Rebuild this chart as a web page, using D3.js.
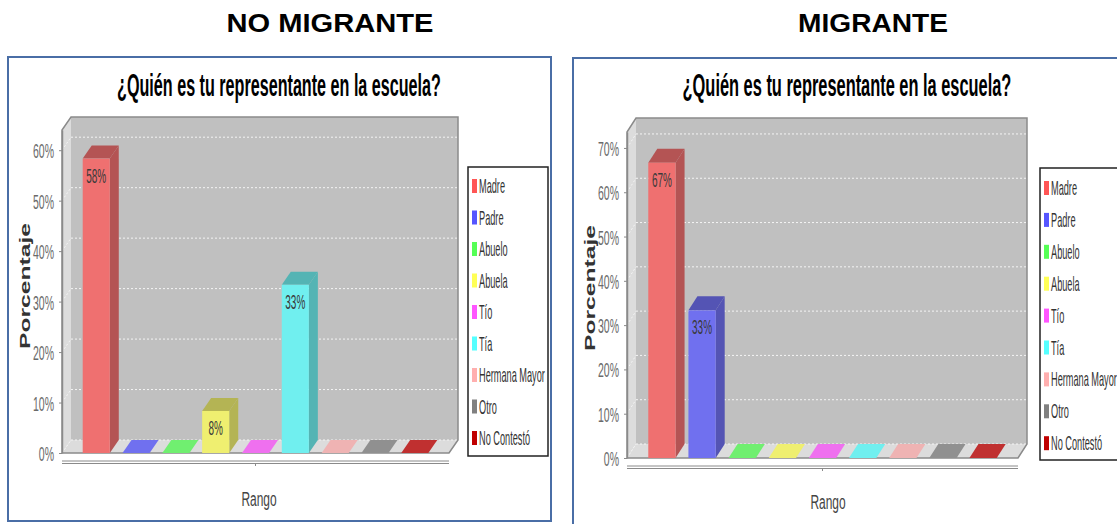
<!DOCTYPE html>
<html>
<head>
<meta charset="utf-8">
<script src="https://cdn.jsdelivr.net/npm/d3@7"></script>
<style>
  html, body { margin: 0; padding: 0; background: #fff; }
  svg { display: block; }
</style>
</head>
<body>
<script>
// data
const categories = ['Madre', 'Padre', 'Abuelo', 'Abuela', 'Tío', 'Tía', 'Hermana Mayor', 'Otro', 'No Contestó'];
const seriesColors = ['#ff5555', '#5555ff', '#55ff55', '#ffff55', '#ff55ff', '#55ffff', '#ffafaf', '#808080', '#c00000'];
const noMigranteValues = [58.33, 0, 0, 8.33, 0, 33.33, 0, 0, 0];
const migranteValues = [66.67, 33.33, 0, 0, 0, 0, 0, 0, 0];
const noMigranteTicks = [0, 10, 20, 30, 40, 50, 60];
const migranteTicks = [0, 10, 20, 30, 40, 50, 60, 70];
const chartTitle = '¿Quién es tu representante en la escuela?';
const panelHeaders = ['NO MIGRANTE', 'MIGRANTE'];

const W = 1117, H = 524;
const FONT = '"Liberation Sans", Arial, sans-serif';

const svg = d3.select('body').append('svg')
  .attr('width', W)
  .attr('height', H)
  .style('font-family', FONT);

svg.append('rect').attr('width', W).attr('height', H).attr('fill', '#fff');

// text squeezed horizontally (the source picture is stretched vertically)
function squeezed(parent, x, y, txt, size, sx, anchor, fill, weight) {
  return parent.append('text')
    .attr('transform', `translate(${x},${y}) scale(${sx},1)`)
    .attr('text-anchor', anchor || 'start')
    .attr('font-size', size)
    .attr('font-weight', weight || 'normal')
    .attr('fill', fill || '#333')
    .text(txt);
}

// centred text scaled so its width matches a target width
function fitted(parent, cx, y, txt, size, width, weight) {
  const t = parent.append('text')
    .attr('text-anchor', 'middle')
    .attr('font-size', size)
    .attr('font-weight', weight)
    .attr('fill', '#000')
    .text(txt);
  const natural = t.node().getComputedTextLength();
  t.attr('transform', `translate(${cx},${y}) scale(${width / natural},1)`);
  return t;
}

function front(c) {
  // bar colour seen through 75% alpha over the grey wall
  const a = d3.color(c), b = d3.color('#c0c0c0');
  return d3.rgb(a.r * 0.75 + b.r * 0.25, a.g * 0.75 + b.g * 0.25, a.b * 0.75 + b.b * 0.25);
}

function drawPanel(cfg) {
  const g = svg.append('g');

  // panel frame
  g.append('rect')
    .attr('x', cfg.frame[0]).attr('y', cfg.frame[1])
    .attr('width', cfg.frame[2]).attr('height', cfg.frame[3])
    .attr('fill', '#fff').attr('stroke', '#4a6ea6').attr('stroke-width', 2);

  // header above the panel, and chart title
  fitted(g, cfg.header[0], cfg.header[1], cfg.headerText, 26, cfg.header[2], 'bold');
  fitted(g, cfg.title[0], cfg.title[1], chartTitle, 31, cfg.title[2], 'bold');

  const ax = cfg.ax, w = cfg.w, base = cfg.base, dx = cfg.dx, dy = cfg.dy;

  const x = d3.scaleBand()
    .domain(categories)
    .range([ax, ax + w])
    .paddingInner(0.32)
    .paddingOuter(cfg.outer);

  const y = d3.scaleLinear()
    .domain([0, cfg.max])
    .range([base, cfg.top]);

  const topF = y(cfg.max);
  const bw = x.bandwidth();

  // back wall
  g.append('rect')
    .attr('x', ax + dx).attr('y', topF - dy)
    .attr('width', w).attr('height', base - topF)
    .attr('fill', '#c0c0c0');

  // left wall
  g.append('polygon')
    .attr('points', [[ax, topF], [ax + dx, topF - dy], [ax + dx, base - dy], [ax, base]].join(' '))
    .attr('fill', '#dcdcdc');

  // floor
  g.append('polygon')
    .attr('points', [[ax, base], [ax + dx, base - dy], [ax + w + dx, base - dy], [ax + w, base]].join(' '))
    .attr('fill', '#dcdcdc');

  // gridlines on the walls
  cfg.ticks.forEach(t => {
    const yy = y(t);
    g.append('line')
      .attr('x1', ax + dx).attr('x2', ax + w + dx)
      .attr('y1', yy - dy).attr('y2', yy - dy)
      .attr('stroke', '#f4f4f4').attr('stroke-width', 1)
      .attr('stroke-dasharray', '2,2');
    g.append('line')
      .attr('x1', ax).attr('x2', ax + dx)
      .attr('y1', yy).attr('y2', yy - dy)
      .attr('stroke', '#f4f4f4').attr('stroke-width', 1)
      .attr('stroke-dasharray', '2,2');
  });

  // outline of the 3d box
  g.append('polyline')
    .attr('points', [[ax, base], [ax, topF], [ax + dx, topF - dy], [ax + w + dx, topF - dy],
      [ax + w + dx, base - dy], [ax + w, base], [ax, base]].join(' '))
    .attr('fill', 'none').attr('stroke', '#8a8a8a').attr('stroke-width', 1.5);

  // bars
  categories.forEach((c, i) => {
    const v = cfg.values[i];
    const x0 = x(c);
    const fc = front(seriesColors[i]);
    if (v === 0) {
      g.append('polygon')
        .attr('points', [[x0, base], [x0 + dx, base - dy], [x0 + bw + dx, base - dy], [x0 + bw, base]].join(' '))
        .attr('fill', fc);
      return;
    }
    const yv = y(v);
    const dark = fc.darker(0.8);
    g.append('polygon')
      .attr('points', [[x0 + bw, yv], [x0 + bw + dx, yv - dy], [x0 + bw + dx, base - dy], [x0 + bw, base]].join(' '))
      .attr('fill', dark);
    g.append('polygon')
      .attr('points', [[x0, yv], [x0 + dx, yv - dy], [x0 + bw + dx, yv - dy], [x0 + bw, yv]].join(' '))
      .attr('fill', dark);
    g.append('rect')
      .attr('x', x0).attr('y', yv)
      .attr('width', bw).attr('height', base - yv)
      .attr('fill', fc);
    squeezed(g, x0 + bw / 2, yv + 24, Math.round(v) + '%', 20, 0.5, 'middle', '#3a3a3a');
  });

  // y axis
  const sx = 0.5;
  const yAxis = g.append('g')
    .attr('transform', `translate(${ax},0)`)
    .call(d3.axisLeft(y).tickValues(cfg.ticks).tickFormat(d => d + '%').tickSize(3).tickSizeOuter(0));
  yAxis.select('.domain').attr('stroke', '#8a8a8a').attr('stroke-width', 1.5);
  yAxis.selectAll('.tick line').attr('stroke', '#8a8a8a');
  yAxis.selectAll('.tick text')
    .attr('x', -8 / sx)
    .attr('dy', '0.36em')
    .attr('transform', `scale(${sx},1)`)
    .attr('font-size', 21)
    .attr('font-family', FONT)
    .attr('fill', '#6a6a6a');

  // x axis (double line with one centre tick)
  [8, 10.5].forEach(o => {
    g.append('line')
      .attr('x1', ax).attr('x2', ax + w)
      .attr('y1', base + o).attr('y2', base + o)
      .attr('stroke', '#8a8a8a').attr('stroke-width', 1);
  });
  g.append('line')
    .attr('x1', ax + w / 2).attr('x2', ax + w / 2)
    .attr('y1', base + 10).attr('y2', base + 13)
    .attr('stroke', '#8a8a8a');

  // axis labels
  squeezed(g, cfg.rango[0], cfg.rango[1], 'Rango', 21, 0.57, 'middle', '#444');
  g.append('text')
    .attr('transform', `translate(${cfg.porc[0]},${cfg.porc[1]}) rotate(-90)`)
    .attr('text-anchor', 'middle')
    .attr('font-size', 15).attr('font-weight', 'bold').attr('fill', '#333')
    .attr('textLength', 126).attr('lengthAdjust', 'spacingAndGlyphs')
    .text('Porcentaje');

  // legend
  const lg = g.append('g');
  lg.append('rect')
    .attr('x', cfg.legend[0]).attr('y', cfg.legend[1])
    .attr('width', cfg.legend[2]).attr('height', cfg.legend[3])
    .attr('fill', '#fff').attr('stroke', '#222').attr('stroke-width', 1.5);
  categories.forEach((c, i) => {
    const cy = cfg.legendY0 + cfg.legendStep * i;
    lg.append('rect')
      .attr('x', cfg.legend[0] + 4).attr('y', cy - 7)
      .attr('width', 5).attr('height', 14)
      .attr('fill', seriesColors[i]);
    squeezed(lg, cfg.legend[0] + 11, cy + 7, c, 20, 0.46, 'start', '#333');
  });
}

drawPanel({
  frame: [8, 57, 543, 464],
  header: [330, 32, 207], headerText: panelHeaders[0],
  title: [279, 96, 324],
  ax: 62, w: 387, base: 453, dx: 9, dy: 13, top: 130, max: 64, outer: 0.52,
  values: noMigranteValues, ticks: noMigranteTicks,
  rango: [259, 506], porc: [30, 286],
  legend: [468, 167, 80, 289], legendY0: 186, legendStep: 31.5
});

drawPanel({
  frame: [573, 58, 600, 480],
  header: [873, 32, 150], headerText: panelHeaders[1],
  title: [847, 96, 329],
  ax: 627, w: 391, base: 458, dx: 9, dy: 14, top: 132, max: 73.6, outer: 0.53,
  values: migranteValues, ticks: migranteTicks,
  rango: [828, 509], porc: [595, 288],
  legend: [1040, 168, 90, 292], legendY0: 188, legendStep: 31.9
});
</script>
</body>
</html>
